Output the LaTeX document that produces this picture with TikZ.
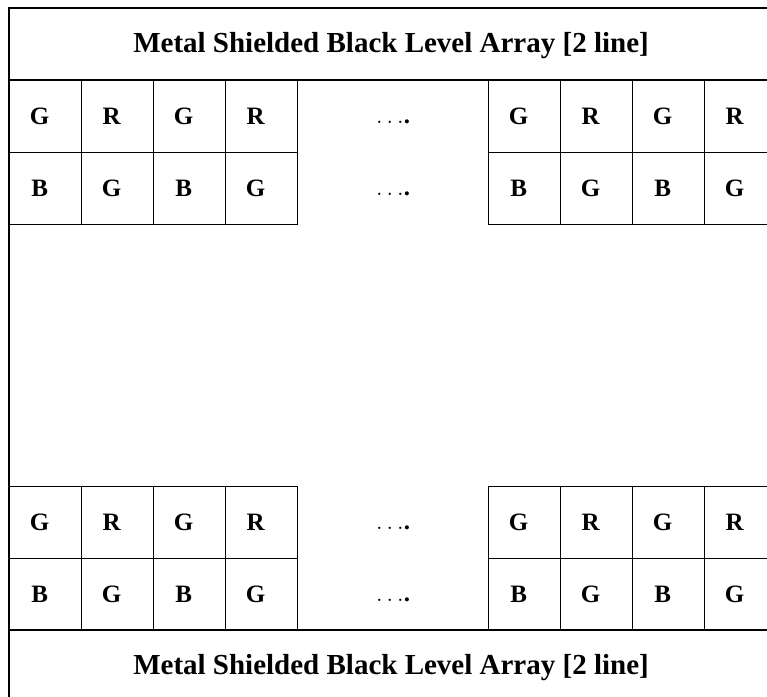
\documentclass[tikz,border=0pt]{standalone}
\usepackage{fontspec}
\setmainfont{Liberation Serif}
\usetikzlibrary{matrix, calc}
\tikzset{
  cell/.style={draw, line width=0.6pt, minimum width=36pt, minimum height=36pt, inner sep=0pt,
    font=\fontsize{12.5}{14}\selectfont\bfseries, execute at begin node={\hspace*{-6pt}}},
  bayer/.style={matrix of nodes, nodes={cell}, column sep=-0.6pt, row sep=-0.6pt,
    inner sep=0pt, outer sep=0pt, anchor=north west},
  title/.style={font=\fontsize{14.5}{16}\selectfont\bfseries, anchor=base},
  gapdots/.style={font=\fontsize{12.5}{14}\selectfont\bfseries, anchor=base}
}

\begin{document}
\begin{tikzpicture}[x=0.5pt, y=-0.5pt]
\useasboundingbox (0,0) rectangle (767,697);
\clip (0,0) rectangle (767,697);
% frame of the shielded rows
\draw[line width=0.8pt] (777,8) -- (9,8) -- (9,707);
\draw[line width=0.6pt] (9,80) -- (777,80);
\draw[line width=0.6pt] (9,630) -- (777,630);
\node[title] (topTitle) at (391,52) {Metal Shielded Black Level Array [2 line]};
\node[title] (botTitle) at (391,674) {Metal Shielded Black Level Array [2 line]};
% pixel blocks
\matrix[bayer] (tl) at (9,80)  {G & R & G & R \\ B & G & B & G \\};
\matrix[bayer] (tr) at (488,80) {G & R & G & R \\ B & G & B & G \\};
\matrix[bayer] (bl) at (9,486)  {G & R & G & R \\ B & G & B & G \\};
\matrix[bayer] (br) at (488,486) {G & R & G & R \\ B & G & B & G \\};
% dots between blocks
\node[gapdots] (tdots1) at ($(tl-1-4.east)!0.5!(tr-1-1.west)+(0,7)$) {$\ldots$.};
\node[gapdots] (tdots2) at ($(tl-2-4.east)!0.5!(tr-2-1.west)+(0,7)$) {$\ldots$.};
\node[gapdots] (bdots1) at ($(bl-1-4.east)!0.5!(br-1-1.west)+(0,7)$) {$\ldots$.};
\node[gapdots] (bdots2) at ($(bl-2-4.east)!0.5!(br-2-1.west)+(0,7)$) {$\ldots$.};
\end{tikzpicture}
\end{document}
